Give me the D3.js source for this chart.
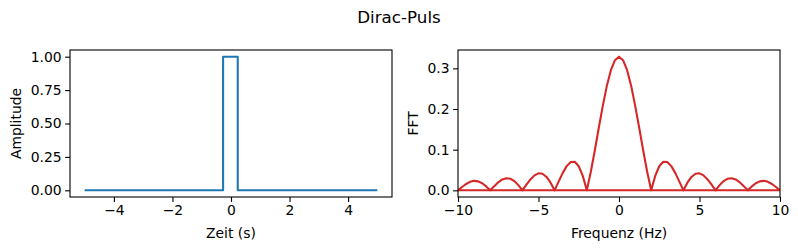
<!DOCTYPE html>
<html>
<head>
<meta charset="utf-8">
<script src="https://cdn.jsdelivr.net/npm/d3@7"></script>
<style>
  body { margin: 0; background: #fff; }
  svg text { font-family: "DejaVu Sans", sans-serif; fill: #000; }
</style>
</head>
<body>
<div id="chart"></div>
<script>
// Zeitbereich: Rechteckpuls
const pulseTime = [-5, -0.27, -0.27, 0.23, 0.23, 5]
const pulseAmp = [0, 0, 1, 1, 0, 0]
const leftTicksX = [-4, -2, 0, 2, 4]
const leftTicksY = [0, 0.25, 0.5, 0.75, 1]

const freqStep = 0.25
const fftMag = [
  0, 0.0082, 0.0156, 0.0209, 0.0233, 0.0221, 0.0174, 0.0097,
  0, 0.0103, 0.0197, 0.0267, 0.0299, 0.0286, 0.0228, 0.0128,
  0, 0.0139, 0.0269, 0.0368, 0.0418, 0.0407, 0.0329, 0.0188,
  0, 0.0214, 0.0423, 0.0595, 0.0698, 0.0703, 0.0592, 0.0356,
  0, 0.0458, 0.0986, 0.155, 0.209, 0.258, 0.296, 0.320,
  0.3287,
  0.320, 0.296, 0.258, 0.209, 0.155, 0.0986, 0.0458, 0,
  0.0356, 0.0592, 0.0703, 0.0698, 0.0595, 0.0423, 0.0214, 0,
  0.0188, 0.0329, 0.0407, 0.0418, 0.0368, 0.0269, 0.0139, 0,
  0.0128, 0.0228, 0.0286, 0.0299, 0.0267, 0.0197, 0.0103, 0,
  0.0097, 0.0174, 0.0221, 0.0233, 0.0209, 0.0156, 0.0082, 0
]
const fftStart = -10
// Nulllinie, die ueber den ganzen Frequenzbereich geht
const baseFreq = [-10, 10]
const baseMag = [0, 0]
const rightTicksX = [-10, -5, 0, 5, 10]
const rightTicksY = [0, 0.1, 0.2, 0.3]

const width = 798
const height = 250
const svg = d3.select('#chart').append('svg')
  .attr('width', width).attr('height', height)

svg.append('text')
  .attr('x', 399).attr('y', 23)
  .attr('text-anchor', 'middle')
  .style('font-size', '16.7px')
  .text('Dirac-Puls')

function makePanel(opt) {
  const g = svg.append('g')
  const x = d3.scaleLinear().domain(opt.xDomain).range([opt.left, opt.right])
  const y = d3.scaleLinear().domain(opt.yDomain).range([opt.bottom, opt.top])

  const clipId = 'clip' + opt.left
  g.append('clipPath').attr('id', clipId)
    .append('rect')
    .attr('x', opt.left).attr('y', opt.top)
    .attr('width', opt.right - opt.left).attr('height', opt.bottom - opt.top)

  const xAxis = d3.axisBottom(x).tickValues(opt.xTicks).tickSize(4.9).tickPadding(3.5)
    .tickFormat(d => opt.xFmt(d))
  const yAxis = d3.axisLeft(y).tickValues(opt.yTicks).tickSize(4.9).tickPadding(3.5)
    .tickFormat(d => opt.yFmt(d))

  const xg = g.append('g').attr('transform', `translate(0,${opt.bottom})`).call(xAxis)
  const yg = g.append('g').attr('transform', `translate(${opt.left},0)`).call(yAxis)
  for (const ag of [xg, yg]) {
    ag.select('.domain').remove()
    ag.selectAll('.tick line').attr('stroke', '#000').attr('stroke-width', 1.1)
    ag.selectAll('.tick text').style('font-size', '13.9px').attr('fill', '#000')
      .style('font-family', '"DejaVu Sans", sans-serif')
  }

  const lines = g.append('g').attr('clip-path', `url(#${clipId})`)
  opt.series.forEach(s => {
    lines.append('path')
      .datum(s.xs.map((v, i) => [v, s.ys[i]]))
      .attr('fill', 'none')
      .attr('stroke', opt.color)
      .attr('stroke-width', 2.08)
      .attr('stroke-linejoin', 'round')
      .attr('d', d3.line().x(d => x(d[0])).y(d => y(d[1])))
  })

  g.append('rect')
    .attr('x', opt.left).attr('y', opt.top)
    .attr('width', opt.right - opt.left).attr('height', opt.bottom - opt.top)
    .attr('fill', 'none').attr('stroke', '#000').attr('stroke-width', 1.1)

  g.append('text')
    .attr('x', (opt.left + opt.right) / 2).attr('y', 238)
    .attr('text-anchor', 'middle')
    .style('font-size', '13.9px')
    .text(opt.xLabel)

  g.append('text')
    .attr('transform', `translate(${opt.yLabelX},${(opt.top + opt.bottom) / 2}) rotate(-90)`)
    .attr('text-anchor', 'middle')
    .style('font-size', '13.9px')
    .text(opt.yLabel)
}

const minus = s => s.replace('-', '\u2212')

makePanel({
  left: 70, right: 392, top: 50, bottom: 197,
  xDomain: [-5.5, 5.5], yDomain: [-0.05, 1.05],
  xTicks: leftTicksX, yTicks: leftTicksY,
  xFmt: d => minus(String(d)), yFmt: d => d.toFixed(2),
  color: '#1f77b4',
  series: [{ xs: pulseTime, ys: pulseAmp }],
  xLabel: 'Zeit (s)', yLabel: 'Amplitude', yLabelX: 21
})

const fftFreq = fftMag.map((_, i) => fftStart + i * freqStep)

makePanel({
  left: 458, right: 780, top: 50, bottom: 197,
  xDomain: [-10, 10], yDomain: [-0.0164, 0.3451],
  xTicks: rightTicksX, yTicks: rightTicksY,
  xFmt: d => minus(String(d)), yFmt: d => d.toFixed(1),
  color: '#d62728',
  series: [{ xs: fftFreq, ys: fftMag }, { xs: baseFreq, ys: baseMag }],
  xLabel: 'Frequenz (Hz)', yLabel: 'FFT', yLabelX: 418
})
</script>
</body>
</html>
